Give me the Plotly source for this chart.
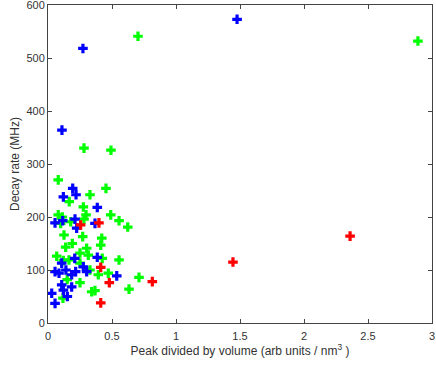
import plotly.graph_objects as go

# Red series
red_x = [0.255, 0.398, 0.412, 0.479, 0.815, 0.412, 1.445, 2.36]
red_y = [185, 189, 105, 76, 78, 38, 115, 164]

# Blue series
blue_x = [1.477, 0.273, 0.109, 0.193, 0.12, 0.219, 0.385, 0.055, 0.115, 0.211,
          0.224, 0.367, 0.209, 0.385, 0.107, 0.055, 0.086, 0.14, 0.185, 0.276,
          0.302, 0.537, 0.107, 0.185, 0.029, 0.12, 0.151, 0.055, 0.216]
blue_y = [573, 518, 364, 254, 238, 242, 218, 189, 193, 196,
          179, 188, 122, 124, 113, 97, 94, 100, 91, 106,
          97, 89, 72, 68, 56, 62, 50, 37, 97]

# Green series
green_x = [0.703, 2.89, 0.281, 0.492, 0.08, 0.453, 0.328, 0.166, 0.276, 0.297,
           0.49, 0.555, 0.623, 0.08, 0.112, 0.281, 0.177, 0.099, 0.125, 0.271,
           0.42, 0.19, 0.138, 0.412, 0.302, 0.068, 0.25, 0.315, 0.424, 0.555,
           0.25, 0.328, 0.393, 0.471, 0.711, 0.25, 0.341, 0.367, 0.633, 0.164,
           0.117, 0.15, 0.12]
green_y = [541, 532, 330, 326, 270, 254, 242, 229, 219, 204,
           204, 193, 181, 204, 200, 196, 191, 188, 166, 163,
           160, 150, 143, 147, 141, 126, 132, 128, 122, 119,
           113, 100, 91, 94, 86, 76, 59, 61, 64, 119,
           47, 82, 118]

x_ticks = [0, 0.5, 1, 1.5, 2, 2.5, 3]
x_tick_labels = ["0", "0.5", "1", "1.5", "2", "2.5", "3"]
y_ticks = [0, 100, 200, 300, 400, 500, 600]
y_tick_labels = ["0", "100", "200", "300", "400", "500", "600"]

marker_common = dict(symbol="cross", size=8, line=dict(width=0))

fig = go.Figure()
fig.add_trace(go.Scatter(x=green_x, y=green_y, mode="markers",
                         marker=dict(color="#00FF00", **marker_common), showlegend=False))
fig.add_trace(go.Scatter(x=blue_x, y=blue_y, mode="markers",
                         marker=dict(color="#0000FF", **marker_common), showlegend=False))
fig.add_trace(go.Scatter(x=red_x, y=red_y, mode="markers",
                         marker=dict(color="#FF0000", **marker_common), showlegend=False))

axis_common = dict(showgrid=False, zeroline=False, showline=True, mirror="ticks",
                   linecolor="#444444", linewidth=1, ticks="inside", ticklen=4,
                   tickcolor="#444444", automargin=False, ticklabeloverflow="allow",
                   tickfont=dict(family="Liberation Sans, Arial", size=11, color="#333333"))

fig.update_layout(
    width=436, height=365,
    margin=dict(l=48, r=4, t=5, b=42),
    paper_bgcolor="white", plot_bgcolor="white",
    font=dict(family="Liberation Sans, Arial", size=12, color="#333333"),
    xaxis=dict(range=[0, 3], tickvals=x_ticks, ticktext=x_tick_labels,
               ticklabelstandoff=3,
               title=dict(text="Peak divided by volume (arb units / nm<sup>3</sup> )",
                          font=dict(size=12), standoff=3),
               **axis_common),
    yaxis=dict(range=[0, 600], tickvals=y_ticks, ticktext=y_tick_labels,
               title=dict(text="Decay rate (MHz)", font=dict(size=12), standoff=4),
               **axis_common),
)

fig.write_html("out.html", config={"displayModeBar": False},
               post_script="document.body.style.margin='0';")
